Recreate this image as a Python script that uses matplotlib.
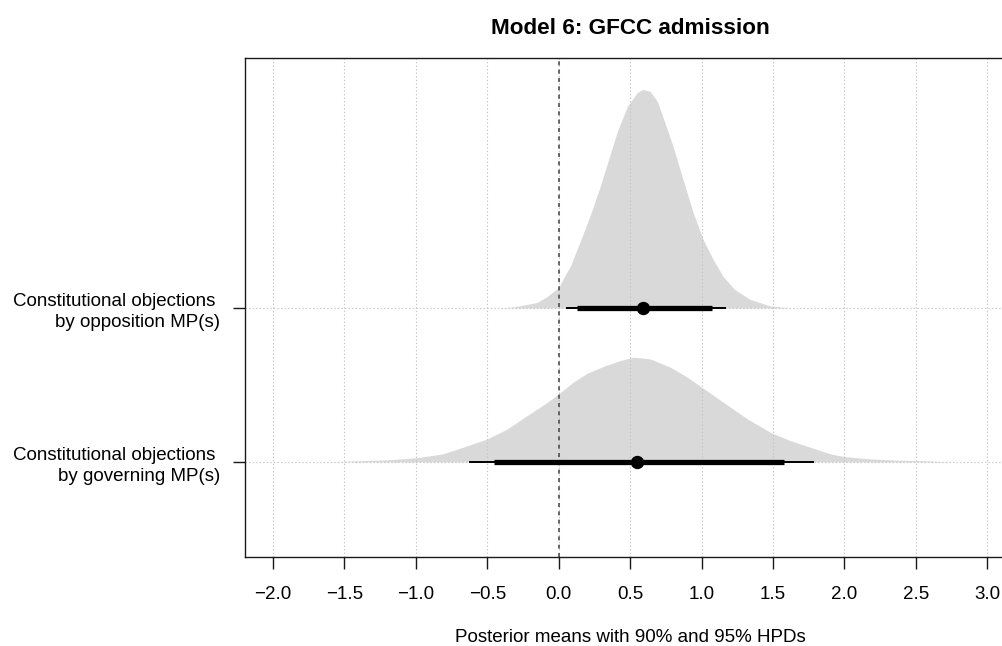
import matplotlib
matplotlib.use("Agg")
import matplotlib.pyplot as plt

plt.rcParams['font.family'] = ['Liberation Sans', 'DejaVu Sans']

# rows (top to bottom): opposition, governing
row_labels = ['Constitutional objections \nby opposition MP(s)',
              'Constitutional objections \nby governing MP(s)']
row_pos = [2, 1]

# posterior densities (x value, height in row units)
opp_x = [-0.43, -0.32, -0.24, -0.15, -0.08, 0.0, 0.04, 0.08, 0.15, 0.22, 0.29, 0.36,
         0.41, 0.48, 0.55, 0.59, 0.64, 0.69, 0.74, 0.80, 0.87, 0.94, 1.01, 1.08,
         1.15, 1.23, 1.34, 1.48, 1.62]
opp_h = [0.0, 0.006, 0.019, 0.036, 0.075, 0.133, 0.204, 0.269, 0.432, 0.601, 0.789, 0.997,
         1.146, 1.309, 1.399, 1.419, 1.406, 1.341, 1.211, 1.049, 0.834, 0.620, 0.445, 0.315,
         0.205, 0.120, 0.055, 0.013, 0.0]

gov_x = [-1.60, -1.44, -1.20, -1.00, -0.81, -0.67, -0.50, -0.36, -0.22, -0.08, 0.0, 0.10,
         0.20, 0.31, 0.43, 0.52, 0.64, 0.78, 0.90, 1.00, 1.15, 1.32, 1.48, 1.62, 1.76,
         1.90, 2.00, 2.18, 2.37, 2.60, 2.77]
gov_h = [0.0, 0.006, 0.013, 0.026, 0.052, 0.095, 0.149, 0.214, 0.301, 0.387, 0.442, 0.517,
         0.576, 0.619, 0.658, 0.680, 0.669, 0.615, 0.550, 0.485, 0.388, 0.279, 0.192, 0.138,
         0.095, 0.052, 0.034, 0.019, 0.011, 0.006, 0.0]

# posterior means and HPD intervals
means = [0.59, 0.55]
hpd90_lo = [0.13, -0.45]
hpd90_hi = [1.075, 1.58]
hpd95_lo = [0.05, -0.63]
hpd95_hi = [1.17, 1.79]

xticks = [-2.0, -1.5, -1.0, -0.5, 0.0, 0.5, 1.0, 1.5, 2.0, 2.5, 3.0]

fig = plt.figure(figsize=(10.03, 6.46), dpi=100)
ax = fig.add_axes([0.24377, 0.13731, 0.76909, 0.77214])
ax.set_xlim(-2.2, 3.2)
ax.set_ylim(0.38, 3.62)

dens = [(opp_x, opp_h), (gov_x, gov_h)]
for (dx, dh), y in zip(dens, row_pos):
    ax.fill_between(dx, y, [y + h for h in dh], color='#d9d9d9', lw=0, zorder=1)

# grid
grid_kw = dict(color='#c4c4c4', lw=0.8, linestyle=(0, (1.2, 2.0)), zorder=2)
for xt in xticks:
    ax.axvline(xt, **grid_kw)
for y in row_pos:
    ax.axhline(y, **grid_kw)
ax.axvline(0, color='#4d4d4d', lw=1.2, linestyle=(0, (2.4, 2.6)), zorder=2.5)

# intervals
for i, y in enumerate(row_pos):
    ax.plot([hpd95_lo[i], hpd95_hi[i]], [y, y], color='black', lw=1.4,
            solid_capstyle='butt', zorder=3)
    ax.plot([hpd90_lo[i], hpd90_hi[i]], [y, y], color='black', lw=3.8,
            solid_capstyle='butt', zorder=3)
    ax.plot(means[i], y, 'o', color='black', ms=8.6, zorder=4)

ax.set_xticks(xticks)
ax.set_xticklabels([('%.1f' % v).replace('-', '\u2212') for v in xticks])
ax.set_yticks(row_pos)
ax.set_yticklabels(row_labels, linespacing=1.33)
ax.tick_params(axis='x', length=8.6, width=1.0, pad=12.0, labelsize=13.5, color='#1a1a1a')
ax.tick_params(axis='y', length=8.9, width=1.0, pad=8.6, labelsize=13.5, color='#1a1a1a')

for s in ['top', 'left', 'bottom']:
    ax.spines[s].set_color('#1a1a1a')
    ax.spines[s].set_linewidth(1.0)
ax.spines['right'].set_visible(False)

fig.text(0.6283, 1 - 34 / 646, 'Model 6: GFCC admission', ha='center', va='baseline',
         fontsize=16.2, fontweight='bold')
fig.text(0.6283, 1 - 642 / 646, 'Posterior means with 90% and 95% HPDs', ha='center',
         va='baseline', fontsize=13.5)

fig.savefig('out.png', dpi=100)
